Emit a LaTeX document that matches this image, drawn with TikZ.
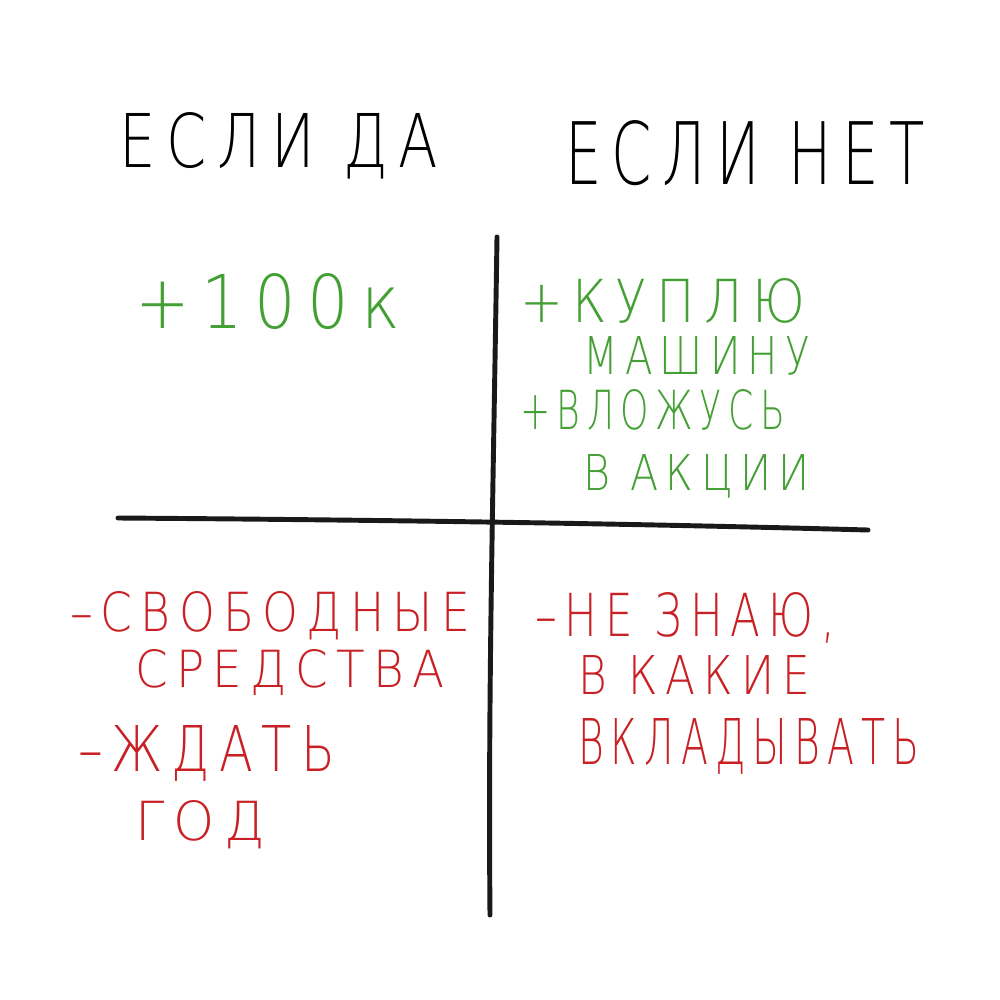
\documentclass[tikz,border=0pt]{standalone}
\usepackage{fontspec}
\setmainfont{DejaVu Sans}
\newfontfamily\penfont[LetterSpace=18]{DejaVu Sans ExtraLight}
\usepackage{graphicx}
\definecolor{plusgreen}{RGB}{68,160,52}
\definecolor{minusred}{RGB}{200,32,36}
% handwritten-style word: box scaled to a given width and cap height (in px units)
\newcommand\hw[3]{\resizebox{#1\dimexpr0.01cm\relax}{#2\dimexpr0.01cm\relax}{\penfont #3}}
\begin{document}
\begin{tikzpicture}[x=0.01cm,y=-0.01cm,
  word/.style={anchor=base west,inner sep=0pt,outer sep=0pt},
  pro/.style={word,text=plusgreen},
  con/.style={word,text=minusred},
  axis/.style={line width=1.4pt,line cap=round,black!90}]
\useasboundingbox (0,0) rectangle (1000,1000);
\fill[white] (0,0) rectangle (1000,1000);

% column headers
\node[word] (hyes) at (120,167) {\hw{318}{55}{ЕСЛИ ДА}};
\node[word] (hno)  at (565,184) {\hw{360}{64}{ЕСЛИ НЕТ}};

% axes of the table
\coordinate (vtop) at (497,237);
\coordinate (vbot) at (490,915);
\coordinate (hleft) at (118,518);
\coordinate (hright) at (868,530);
\draw[axis] (vtop) .. controls (493,500) and (488,700) .. (vbot);
\draw[axis] (hleft) .. controls (400,520) and (650,524) .. (hright);

% pros
\node[pro] (p1) at (135,328) {\hw{265}{55}{+100к}};
\node[pro] (p2) at (520,322) {\hw{285}{44}{+КУПЛЮ}};
\node[pro] (p3) at (583,374) {\hw{227}{38}{МАШИНУ}};
\node[pro] (p4) at (520,429) {\hw{265}{40}{+ВЛОЖУСЬ}};
\node[pro] (p5) at (583,490) {\hw{227}{36}{В АКЦИИ}};

% cons
\node[con] (c1) at (70,631)  {\hw{400}{40}{–СВОБОДНЫЕ}};
\node[con] (c2) at (135,687) {\hw{310}{38}{СРЕДСТВА}};
\node[con] (c3) at (78,771)  {\hw{257}{46}{–ЖДАТЬ}};
\node[con] (c4) at (135,840) {\hw{130}{40}{ГОД}};
\node[con] (c5) at (535,636) {\hw{300}{44}{–НЕ ЗНАЮ,}};
\node[con] (c6) at (578,694) {\hw{232}{39}{В КАКИЕ}};
\node[con] (c7) at (578,764) {\hw{342}{46}{ВКЛАДЫВАТЬ}};
\end{tikzpicture}
\end{document}
